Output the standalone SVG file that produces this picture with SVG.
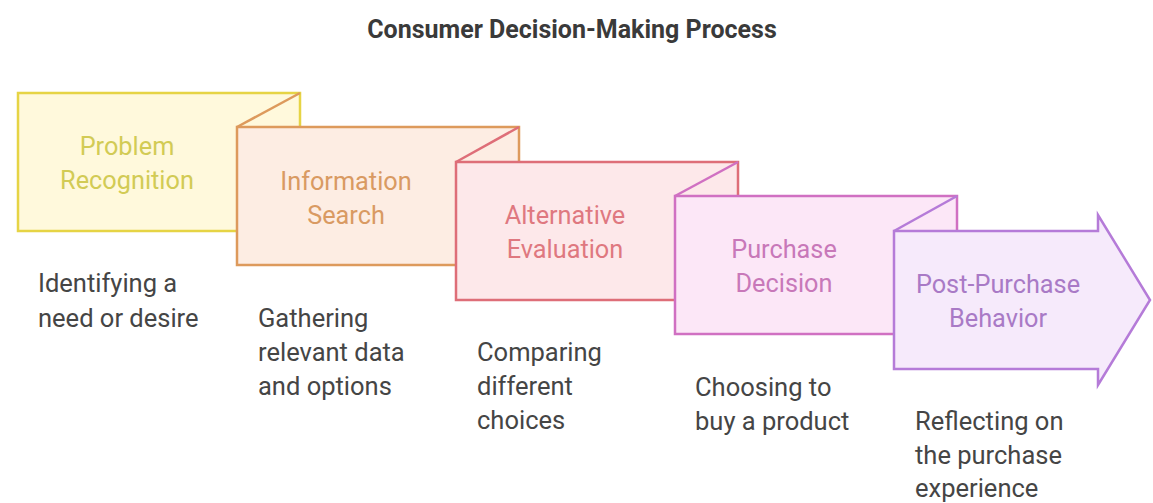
<svg xmlns="http://www.w3.org/2000/svg" width="1153" height="503" viewBox="0 0 1153 503">
<style>
.title{font-family:Roboto,"Liberation Sans",sans-serif;font-weight:bold;font-size:25px;fill:#3a3a3a;text-anchor:middle}
.lbl{font-family:Roboto,"Liberation Sans",sans-serif;font-size:25.3px;text-anchor:middle}
.desc{font-family:Roboto,"Liberation Sans",sans-serif;font-size:25.5px;fill:#454545}
.box{stroke-width:2.5;stroke-linejoin:miter}
.fold{fill:none;stroke-width:2.5}
.s1{fill:#FFF9DC;stroke:#E6D445}.t1{fill:#D2CB55}
.s2{fill:#FDEDE3;stroke:#DD9A5C}.t2{fill:#D99A62}
.s3{fill:#FDE8EA;stroke:#DE6E78}.t3{fill:#DF7880}
.s4{fill:#FCE7F7;stroke:#D070C2}.t4{fill:#C878B9}
.s5{fill:#F6EAFB;stroke:#B57BD8}.t5{fill:#A97AC6}
</style>
<rect width="1153" height="503" fill="#ffffff"/>
<text class="title" x="572" y="38">Consumer Decision-Making Process</text>
<g id="connectors"></g>
<g id="node-problem-recognition">
<rect class="box s1" x="18" y="93" width="282" height="138"/>
<text class="lbl t1" x="127" y="155">Problem</text>
<text class="lbl t1" x="127" y="189">Recognition</text>
<text class="desc" x="38" y="292">Identifying a</text>
<text class="desc" x="38" y="327">need or desire</text>
</g>
<g id="node-information-search">
<rect class="box s2" x="237" y="127" width="282" height="138"/>
<line class="fold s2" x1="237" y1="127" x2="300" y2="93"/>
<text class="lbl t2" x="346" y="190">Information</text>
<text class="lbl t2" x="346" y="224">Search</text>
<text class="desc" x="258" y="327">Gathering</text>
<text class="desc" x="258" y="361">relevant data</text>
<text class="desc" x="258" y="395">and options</text>
</g>
<g id="node-alternative-evaluation">
<rect class="box s3" x="456" y="162" width="282" height="138"/>
<line class="fold s3" x1="456" y1="162" x2="519" y2="127"/>
<text class="lbl t3" x="565" y="224">Alternative</text>
<text class="lbl t3" x="565" y="258">Evaluation</text>
<text class="desc" x="477" y="361">Comparing</text>
<text class="desc" x="477" y="395">different</text>
<text class="desc" x="477" y="429">choices</text>
</g>
<g id="node-purchase-decision">
<rect class="box s4" x="675" y="196" width="282" height="138"/>
<line class="fold s4" x1="675" y1="196" x2="738" y2="162"/>
<text class="lbl t4" x="784" y="258">Purchase</text>
<text class="lbl t4" x="784" y="292">Decision</text>
<text class="desc" x="695" y="396">Choosing to</text>
<text class="desc" x="695" y="430">buy a product</text>
</g>
<g id="node-post-purchase-behavior">
<path class="box s5" d="M894,231 H1098 V215 L1150,300 L1098,385 V369 H894 Z"/>
<line class="fold s5" x1="894" y1="231" x2="957" y2="196"/>
<text class="lbl t5" x="998" y="293">Post-Purchase</text>
<text class="lbl t5" x="998" y="327">Behavior</text>
<text class="desc" x="915" y="430">Reflecting on</text>
<text class="desc" x="915" y="464">the purchase</text>
<text class="desc" x="915" y="497">experience</text>
</g>
</svg>
